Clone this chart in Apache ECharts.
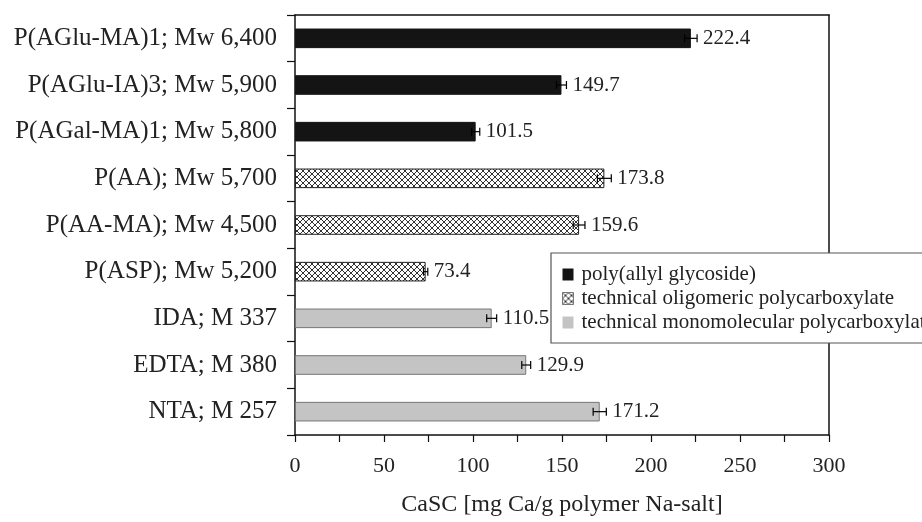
<!DOCTYPE html>
<html><head><meta charset="utf-8">
<script src="https://cdn.jsdelivr.net/npm/echarts@6/dist/echarts.min.js"></script>
<style>html,body{margin:0;padding:0;background:#fff}#c{width:922px;height:522px}</style>
</head><body><div id="c"></div>
<script>
const categories = ["P(AGlu-MA)1; Mw 6,400","P(AGlu-IA)3; Mw 5,900","P(AGal-MA)1; Mw 5,800","P(AA); Mw 5,700","P(AA-MA); Mw 4,500","P(ASP); Mw 5,200","IDA; M 337","EDTA; M 380","NTA; M 257"];
const values = [222.4,149.7,101.5,173.8,159.6,73.4,110.5,129.9,171.2];
const errors = [3.5,2.8,2.3,3.9,3.3,1.2,2.8,2.5,3.7];
const groups = [0,0,0,1,1,1,2,2,2];
const seriesNames = ["poly(allyl glycoside)","technical oligomeric polycarboxylate","technical monomolecular polycarboxylate"];
const xTicks = [0,50,100,150,200,250,300];

const font = '"Liberation Serif","Times New Roman",serif';
function hatch(){
  const c=document.createElement('canvas'); c.width=6;c.height=6;
  const g=c.getContext('2d'); g.fillStyle='#fff'; g.fillRect(0,0,6,6);
  g.strokeStyle='#333'; g.lineWidth=1;
  g.beginPath(); g.moveTo(0,0); g.lineTo(6,6); g.moveTo(6,0); g.lineTo(0,6); g.stroke();
  return c;
}
const fills = ['#141414', {image: hatch(), repeat:'repeat'}, '#c4c4c4'];
const borders = ['#141414','#222','#777'];

const barSeries = seriesNames.map((n,si)=>({
  name:n, type:'bar', stack:'s', barWidth:'42%',
  data: values.map((v,i)=> groups[i]===si ? v : '-'),
  itemStyle:{color:fills[si], borderColor:borders[si], borderWidth:1},
  emphasis:{disabled:true}
}));

const errSeries = {
  type:'custom', silent:true, z:3,
  data: values.map((v,i)=>[v, i, errors[i]]),
  encode:{x:0,y:1},
  renderItem:(params, api)=>{
    const v=api.value(0), i=api.value(1), e=api.value(2);
    const lo=api.coord([v-e,i]), hi=api.coord([v+e,i]);
    const y=lo[1], h=4;
    return {type:'group', children:[
      {type:'line', shape:{x1:lo[0],y1:y,x2:hi[0],y2:y}, style:{stroke:'#000',lineWidth:1.2}},
      {type:'line', shape:{x1:lo[0],y1:y-h,x2:lo[0],y2:y+h}, style:{stroke:'#000',lineWidth:1.2}},
      {type:'line', shape:{x1:hi[0],y1:y-h,x2:hi[0],y2:y+h}, style:{stroke:'#000',lineWidth:1.2}},
      {type:'text', style:{x:hi[0]+6, y:y, text:values[i].toFixed(1), font:'21px '+font, fill:'#222', verticalAlign:'middle', align:'left'}}
    ]};
  }
};

const chart = echarts.init(document.getElementById('c'));
chart.setOption({
  animation:false,
  textStyle:{fontFamily:font},
  grid:{left:295,right:93,top:15,bottom:86},
  legend:{
    orient:'vertical', left:551, top:253, padding:[11,10,10,11],
    borderColor:'#555', borderWidth:1.2, backgroundColor:'#fff',
    icon:'rect', itemWidth:11, itemHeight:12, itemGap:3, selectedMode:false,
    textStyle:{fontFamily:font, fontSize:21, color:'#222', padding:[0,0,0,3]},
    data: seriesNames.map((n,si)=>({name:n, itemStyle:{color:fills[si], borderColor:si===1?'#777':borders[si], borderWidth:si===1?1:0}})),
    z:10
  },
  xAxis:[{
    type:'value', min:0, max:300, interval:25,
    name:'CaSC [mg Ca/g polymer Na-salt]', nameLocation:'middle', nameGap:58,
    nameTextStyle:{fontFamily:font, fontSize:24, color:'#222'},
    axisLine:{show:true, onZero:false, lineStyle:{color:'#111',width:1.5}},
    axisTick:{show:true, length:7, lineStyle:{color:'#111',width:1.2}},
    axisLabel:{fontFamily:font, fontSize:22, color:'#222', margin:20,
      formatter:v=> xTicks.indexOf(v)>=0 ? String(v) : ''},
    splitLine:{show:false}
  },{
    type:'value', min:0, max:300, position:'top',
    axisLine:{show:true, onZero:false, lineStyle:{color:'#111',width:1.5}},
    axisTick:{show:false}, axisLabel:{show:false}, splitLine:{show:false}
  }],
  yAxis:[{
    type:'category', data:categories, inverse:true,
    axisLine:{show:true, onZero:false, lineStyle:{color:'#111',width:1.5}},
    axisTick:{show:true, length:8, lineStyle:{color:'#111',width:1.2}},
    axisLabel:{fontFamily:font, fontSize:25, color:'#222', margin:18}
  },{
    type:'category', data:categories, inverse:true, position:'right',
    axisLine:{show:true, onZero:false, lineStyle:{color:'#111',width:1.5}},
    axisTick:{show:false}, axisLabel:{show:false}
  }],
  series:[...barSeries, errSeries]
});
</script></body></html>
